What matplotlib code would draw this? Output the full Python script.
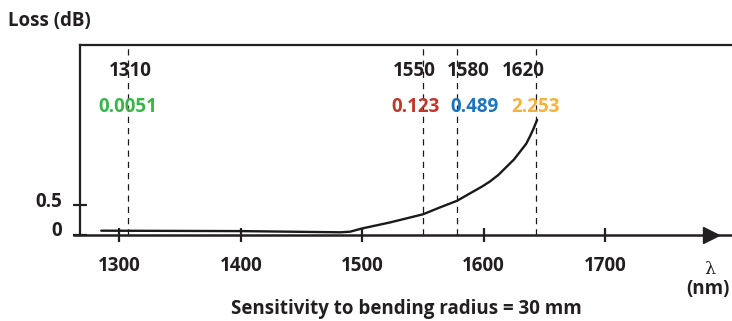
import matplotlib
matplotlib.use("Agg")
import matplotlib.pyplot as plt
from matplotlib.transforms import ScaledTranslation

# ── DATA ────────────────────────────────────────────────────────────────────
# bend loss curve (schematic)
curve_nm   = [1285, 1400, 1482, 1490, 1500, 1523, 1550, 1564, 1578, 1591, 1598, 1605, 1612, 1619, 1625, 1630, 1635, 1638, 1641, 1644]
curve_loss = [0.072, 0.065, 0.045, 0.055, 0.11, 0.21, 0.345, 0.46, 0.57, 0.72, 0.80, 0.89, 1.00, 1.14, 1.26, 1.39, 1.52, 1.64, 1.77, 1.92]

# marker wavelengths, where the dashed lines are drawn, and the loss values
marker_labels = ["1310", "1550", "1580", "1620"]
marker_nm     = [1307, 1550, 1578, 1643]
loss_labels   = ["0.0051", "0.123", "0.489", "2.253"]
loss_colors   = ["#3ab54a", "#c1362a", "#1c75bc", "#fbb03b"]

x_ticks = [1300, 1400, 1500, 1600, 1700]
y_ticks = [0, 0.5]
y_tick_labels = ["0", "0.5"]

# ── LAYOUT ──────────────────────────────────────────────────────────────────
W, H, DPI = 732, 321, 100
FONT = "Open Sans"
FS = 13.5
label_dx = [2, -9, 11, -13]     # px offset of the wavelength labels
value_dx = [0, -7, 18, 0]       # px offset of the loss labels

plt.rcParams["font.family"] = [FONT, "DejaVu Sans"]

fig = plt.figure(figsize=(W / DPI, H / DPI), dpi=DPI)
ax = fig.add_axes([80 / W, (H - 235) / H, 652 / W, 190 / H])

ax.set_xlim(1267.5, 1804.5)
ax.set_ylim(0, 190 / 60)

# curve
ax.plot(curve_nm, curve_loss, color="#1a1a1a", linewidth=1.7,
        solid_capstyle="round", solid_joinstyle="round")

# dashed marker lines + labels
for nm, lab, val, col, dx, vdx in zip(marker_nm, marker_labels, loss_labels,
                                       loss_colors, label_dx, value_dx):
    ax.axvline(nm, color="#1a1a1a", linewidth=0.9, linestyle=(0, (5, 4)))
    tr = ax.get_xaxis_transform()
    ax.text(nm, 1, lab, transform=tr + ScaledTranslation(dx / DPI, -26 / DPI, fig.dpi_scale_trans),
            ha="center", va="center", fontsize=FS, fontweight="bold", color="#231f20")
    ax.text(nm, 1, val, transform=tr + ScaledTranslation(vdx / DPI, -62 / DPI, fig.dpi_scale_trans),
            ha="center", va="center", fontsize=FS, fontweight="bold", color=col)

# spines: top + left box, bottom drawn as an arrow line
for side in ["right", "bottom"]:
    ax.spines[side].set_visible(False)
for side in ["top", "left"]:
    ax.spines[side].set_linewidth(1.6)
    ax.spines[side].set_color("#231f20")

ax.plot([-6 / 652, 1], [0, 0], transform=ax.transAxes, color="#231f20",
        linewidth=1.8, clip_on=False, zorder=3)
ax.plot([(711 - 80) / 652], [0], transform=ax.transAxes, marker=">", markersize=11,
        color="#231f20", clip_on=False, zorder=4)

# ticks
ax.set_xticks(x_ticks)
ax.set_xticklabels([str(t) for t in x_ticks])
ax.set_yticks(y_ticks)
ax.set_yticklabels(y_tick_labels)
ax.tick_params(axis="both", direction="inout", length=10, width=1.6, color="#231f20",
               labelsize=FS, labelcolor="#231f20")
ax.tick_params(axis="x", pad=10)
ax.tick_params(axis="y", pad=8)
for t in ax.get_xticklabels() + ax.get_yticklabels():
    t.set_fontweight("bold")
for t in ax.get_yticklabels():
    t.set_transform(t.get_transform() + ScaledTranslation(0, 6 / DPI, fig.dpi_scale_trans))

# axis titles
fig.text(8 / W, 1 - 21 / H, "Loss (dB)", ha="left", va="center",
         fontsize=FS, fontweight="bold", color="#231f20")
fig.text(406 / W, 1 - 309 / H, "Sensitivity to bending radius = 30 mm", ha="center",
         va="center", fontsize=FS, fontweight="bold", color="#231f20")
fig.text(710 / W, 1 - 269 / H, "λ", ha="center", va="center", fontsize=12.5,
         family="DejaVu Serif", color="#231f20")
fig.text(708 / W, 1 - 289 / H, "(nm)", ha="center", va="center",
         fontsize=FS, fontweight="bold", color="#231f20")

fig.savefig("out.png", dpi=DPI)
